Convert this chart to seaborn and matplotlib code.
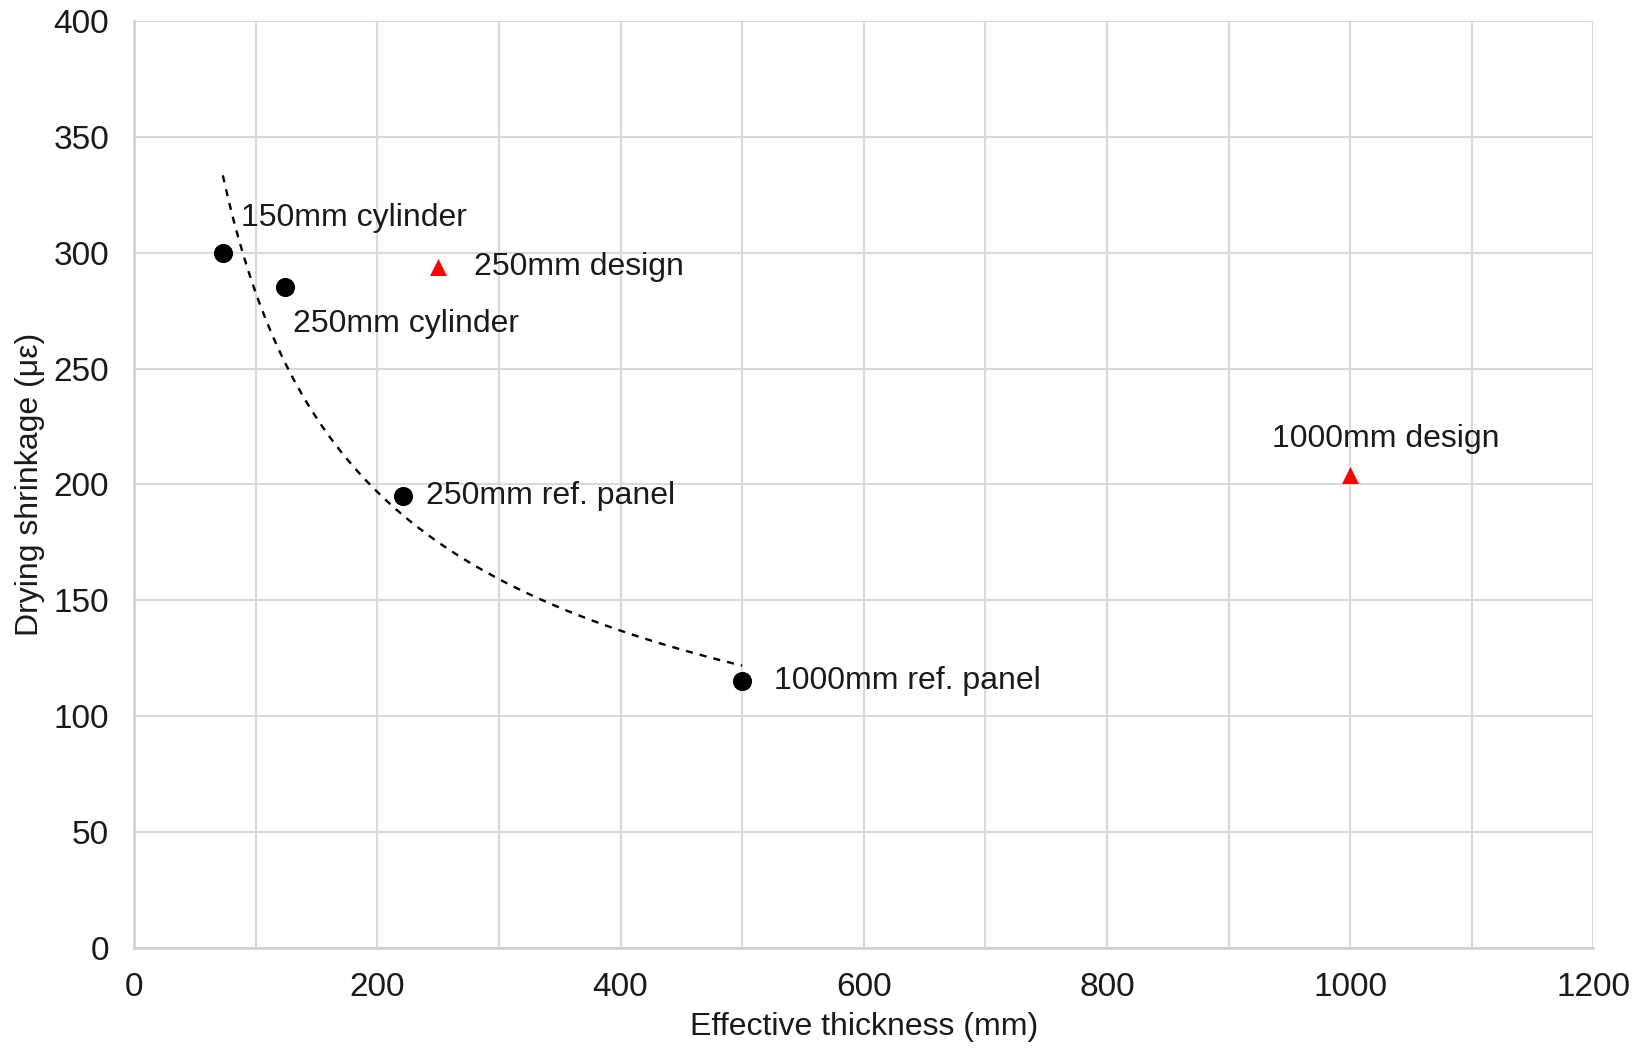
import numpy as np
import pandas as pd
import matplotlib
matplotlib.use("Agg")
import matplotlib.pyplot as plt
import seaborn as sns
from matplotlib.ticker import MultipleLocator, FuncFormatter

# Data
ref_labels = ["150mm cylinder", "250mm cylinder", "250mm ref. panel", "1000mm ref. panel"]
ref_thickness = [73, 124, 221, 500]
ref_shrinkage = [300, 285, 195, 115]

design_labels = ["250mm design", "1000mm design"]
design_thickness = [250, 1000]
design_shrinkage = [294, 204]

sns.set_theme(style="white")
plt.rcParams['font.family'] = ['Liberation Sans', 'DejaVu Sans']

fig = plt.figure(figsize=(16.41, 10.48), dpi=100)
ax = fig.add_axes([0.0817, 0.0954, 0.971 - 0.0817, 0.980 - 0.0954])

# Power trendline fitted to the reference points
lx = np.log(ref_thickness)
ly = np.log(ref_shrinkage)
b, ln_a = np.polyfit(lx, ly, 1)
xs = np.linspace(min(ref_thickness), max(ref_thickness), 200)
trend = pd.DataFrame({"x": xs, "y": np.exp(ln_a) * xs ** b})
sns.lineplot(data=trend, x="x", y="y", ax=ax, color="black", lw=1.7,
             linestyle=(0, (3, 3)), zorder=3)

ref_df = pd.DataFrame({"x": ref_thickness, "y": ref_shrinkage, "label": ref_labels})
des_df = pd.DataFrame({"x": design_thickness, "y": design_shrinkage, "label": design_labels})

sns.scatterplot(data=ref_df, x="x", y="y", ax=ax, color="black", marker="o",
                s=190, edgecolor="black", linewidth=0, zorder=4)
sns.scatterplot(data=des_df, x="x", y="y", ax=ax, color="#ff0000", marker="^",
                s=150, edgecolor="#ff0000", linewidth=0, zorder=4)

fs = 23
tfs = 24
tc = "#1a1a1a"
ref_offsets = [(13, 25, "left"), (6, -26, "left"), (16.5, 0, "left"), (23, 0, "left")]
for (lab, x, y), (dx, dy, ha) in zip(zip(ref_labels, ref_thickness, ref_shrinkage), ref_offsets):
    ax.annotate(lab, (x, y), xytext=(dx, dy), textcoords="offset points",
                ha=ha, va="center", fontsize=fs, color=tc, zorder=5)
des_offsets = [(25.5, 0, "left"), (25.5, 26, "center")]
for (lab, x, y), (dx, dy, ha) in zip(zip(design_labels, design_thickness, design_shrinkage), des_offsets):
    ax.annotate(lab, (x, y), xytext=(dx, dy), textcoords="offset points",
                ha=ha, va="center", fontsize=fs, color=tc, zorder=5)

ax.set_xlim(0, 1200)
ax.set_ylim(0, 400)
ax.xaxis.set_major_locator(MultipleLocator(100))
ax.xaxis.set_major_formatter(FuncFormatter(lambda v, p: f"{int(v)}" if int(round(v)) % 200 == 0 else ""))
ax.yaxis.set_major_locator(MultipleLocator(50))
ax.grid(True, color="#d9d9d9", lw=1.5)
ax.set_axisbelow(True)
for s in ["top", "right"]:
    ax.spines[s].set_visible(False)
for s in ["left", "bottom"]:
    ax.spines[s].set_color("#cfcfcf")
    ax.spines[s].set_linewidth(1.8)

ax.tick_params(axis="both", length=0, labelsize=tfs, labelcolor=tc)
ax.tick_params(axis="x", pad=17)
ax.tick_params(axis="y", pad=18)
ax.set_xlabel("Effective thickness (mm)", fontsize=fs, color=tc, labelpad=7)
ax.set_ylabel("Drying shrinkage (με)", fontsize=fs, color=tc, labelpad=6)

fig.savefig("out.png", dpi=100)
